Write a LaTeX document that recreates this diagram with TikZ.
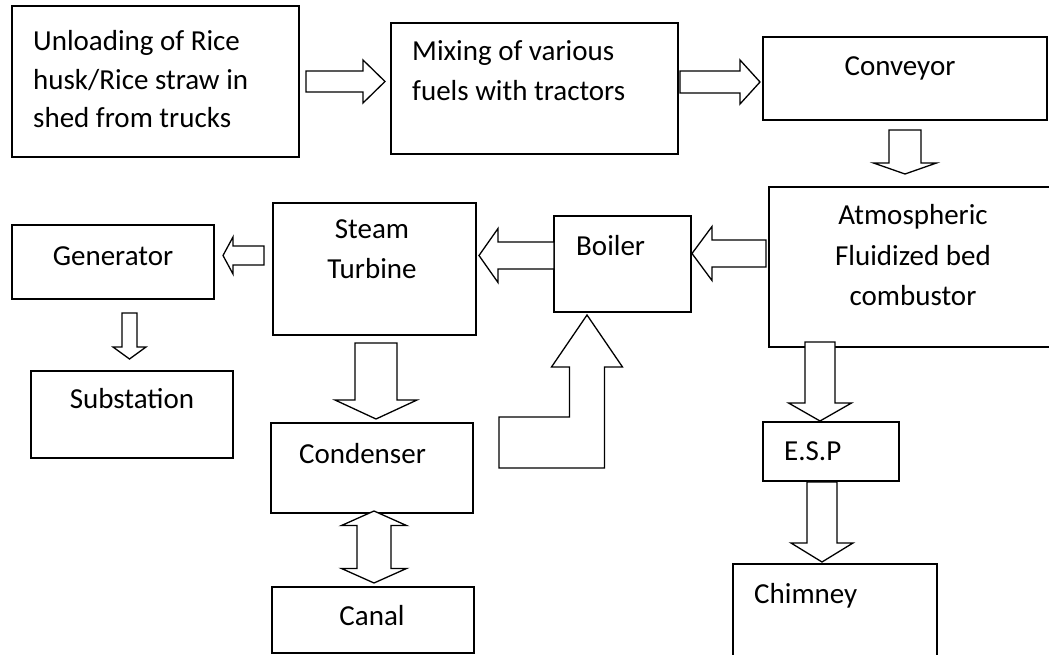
\documentclass[tikz,border=0pt]{standalone}
\usepackage{fontspec}
\setmainfont{Carlito}
\usetikzlibrary{calc}
\newcommand{\blockarrow}[5]{% tail, tip, shaft half width, head half width, head length
  \coordinate (baA) at (#1);
  \coordinate (baT) at (#2);
  \coordinate (baH) at ($(baT)!#5pt!(baA)$);
  \draw[fatarrow] ($(baA)!#3pt!90:(baT)$) -- ($(baH)!#3pt!90:(baT)$) -- ($(baH)!#4pt!90:(baT)$)
    -- (baT) -- ($(baH)!#4pt!-90:(baT)$) -- ($(baH)!#3pt!-90:(baT)$) -- ($(baA)!#3pt!-90:(baT)$) -- cycle;
}
\newcommand{\dblblockarrow}[5]{% tip1, tip2, shaft half width, head half width, head length
  \coordinate (daA) at (#1);
  \coordinate (daB) at (#2);
  \coordinate (daH) at ($(daA)!#5pt!(daB)$);
  \coordinate (daK) at ($(daB)!#5pt!(daA)$);
  \draw[fatarrow] (daA) -- ($(daH)!#4pt!90:(daB)$) -- ($(daH)!#3pt!90:(daB)$) -- ($(daK)!#3pt!90:(daB)$)
    -- ($(daK)!#4pt!90:(daB)$) -- (daB) -- ($(daK)!#4pt!-90:(daB)$) -- ($(daK)!#3pt!-90:(daB)$)
    -- ($(daH)!#3pt!-90:(daB)$) -- ($(daH)!#4pt!-90:(daB)$) -- cycle;
}
\begin{document}
\begin{tikzpicture}[x=1pt,y=-1pt,
  box/.style={draw, line width=1.3pt, rectangle, inner sep=0pt, outer sep=0pt, anchor=north west},
  fatarrow/.style={draw, fill=white, line width=1.3pt, line join=miter},
  txt/.style={inner sep=0pt, font=\fontsize{29}{35}\selectfont}]
\useasboundingbox[fill=white] (0,0) rectangle (1049,655);

% boxes
\node[box, minimum width=287pt, minimum height=151pt] (b1) at (12,6) {};
\node[box, minimum width=287pt, minimum height=131pt] (b2) at (391,23) {};
\node[box, minimum width=284pt, minimum height=83pt] (b3) at (763,37) {};
\node[box, minimum width=300pt, minimum height=160pt] (b4) at (769,187) {};
\node[box, minimum width=137pt, minimum height=96pt] (b5) at (554,216) {};
\node[box, minimum width=203pt, minimum height=132pt] (b6) at (273,203) {};
\node[box, minimum width=202pt, minimum height=74pt] (b7) at (12,225) {};
\node[box, minimum width=202pt, minimum height=87pt] (b8) at (31,371) {};
\node[box, minimum width=202pt, minimum height=90pt] (b9) at (271,423) {};
\node[box, minimum width=202pt, minimum height=66pt] (b10) at (272,587) {};
\node[box, minimum width=136pt, minimum height=59pt] (b11) at (763,422) {};
\node[box, minimum width=204pt, minimum height=120pt] (b12) at (733,564) {};

% texts
\node[txt, anchor=base west] (t1a) at ($(b1.north west)+(21,45)$) {Unloading of Rice};
\node[txt, anchor=base west] (t1b) at ($(b1.north west)+(21,84)$) {husk/Rice straw in};
\node[txt, anchor=base west] (t1c) at ($(b1.north west)+(21,122)$) {shed from trucks};
\node[txt, anchor=base west] (t2a) at ($(b2.north west)+(21,38)$) {Mixing of various};
\node[txt, anchor=base west] (t2b) at ($(b2.north west)+(21,78)$) {fuels with tractors};
\node[txt, anchor=base] (t3) at ($(b3.north west)+(137,39)$) {Conveyor};
\node[txt, anchor=base] (t4a) at ($(b4.north west)+(144,38)$) {Atmospheric};
\node[txt, anchor=base] (t4b) at ($(b4.north west)+(144,78)$) {Fluidized bed};
\node[txt, anchor=base] (t4c) at ($(b4.north west)+(144,118)$) {combustor};
\node[txt, anchor=base west] (t5) at ($(b5.north west)+(22,39)$) {Boiler};
\node[txt, anchor=base] (t6a) at ($(b6.north west)+(99,35)$) {Steam};
\node[txt, anchor=base] (t6b) at ($(b6.north west)+(99,75)$) {Turbine};
\node[txt, anchor=base] (t7) at ($(b7.north west)+(101,40)$) {Generator};
\node[txt, anchor=base] (t8) at ($(b8.north west)+(101,37)$) {Substation};
\node[txt, anchor=base] (t9) at ($(b9.north west)+(91.5,40)$) {Condenser};
\node[txt, anchor=base] (t10) at ($(b10.north west)+(100,38)$) {Canal};
\node[txt, anchor=base west] (t11) at ($(b11.north west)+(21,38)$) {E.S.P};
\node[txt, anchor=base west] (t12) at ($(b12.north west)+(21,39)$) {Chimney};

% block arrows
\blockarrow{$(b1.east)+(7,0)$}{$(b2.west |- b1.east)+(-6,0)$}{10.5}{21.5}{22}
\blockarrow{$(b2.east)+(2,-6.5)$}{$(b3.west)+(-3,3.5)$}{11}{22}{20}
\blockarrow{$(b3.south)+(0,10)$}{$(b4.north -| b3.south)+(0,-13)$}{16}{31.5}{11}
\blockarrow{$(b4.west)+(-3,-13.5)$}{$(b5.east)+(1,-10.5)$}{13.5}{27}{20}
\blockarrow{$(b5.west)+(0,-8.5)$}{$(b6.east)+(3,-13.5)$}{13.5}{27}{19}
\blockarrow{$(b6.west)+(-9,-13.5)$}{$(b7.east)+(9,-6.5)$}{9.5}{18.5}{10}
\blockarrow{$(b7.south)+(16.5,14)$}{$(b8.north)+(-2.5,-12)$}{7.5}{16.5}{12}
\blockarrow{$(b6.south)+(1.5,8)$}{$(b9.north)+(4,-4)$}{21}{41}{19}
\dblblockarrow{$(b9.south)+(2,-2)$}{$(b10.north)+(1,-4)$}{17}{32.5}{14.5}
\blockarrow{$(b4.south west)+(51,-5)$}{$(b11.north)+(-11,-1)$}{15}{31.5}{18}
\blockarrow{$(b11.south)+(-9,1)$}{$(b12.north)+(-13,-2)$}{15}{31}{19}

% bent arrow from condenser side up to boiler
\coordinate (bt) at ($(b5.south)+(-35.5,3)$);
\coordinate (bc) at ($(b9.east)+(26,0)$);
\draw[fatarrow] ($(bt)+(17.5,52)$) -- ($(bt)+(35.5,52)$) -- (bt) -- ($(bt)+(-35.5,52)$)
  -- ($(bt)+(-17.5,52)$) -- ($(bt)+(-17.5,102)$) -- ($(bc)+(0,-51)$) -- (bc)
  -- ($(bt |- bc)+(17.5,0)$) -- cycle;
\end{tikzpicture}
\end{document}
